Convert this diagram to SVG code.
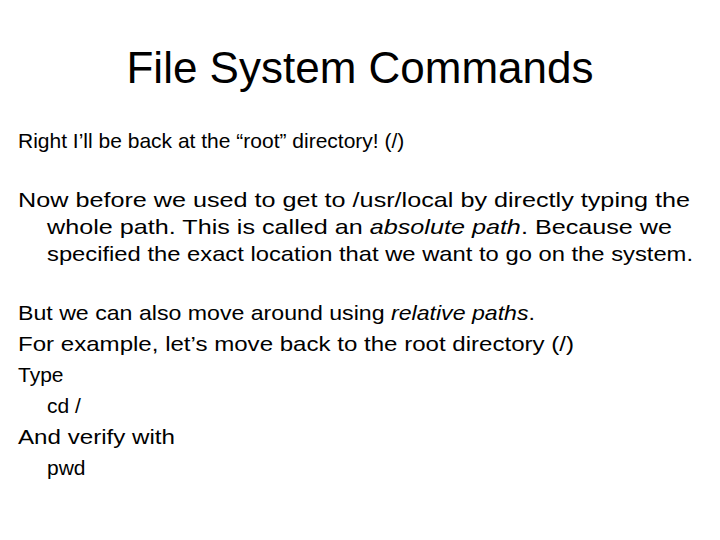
<svg xmlns="http://www.w3.org/2000/svg" width="720" height="540" viewBox="0 0 720 540">
<style>
text{font-family:"Liberation Sans",Arial,sans-serif;fill:#000}
.t{font-size:44px}
.b{font-size:21px}
</style>
<rect width="720" height="540" fill="#fff"/>
<g id="title"><text class="t" x="360" y="83" text-anchor="middle">File System Commands</text></g>
<g id="body" transform="translate(0,7)">
<text class="b" x="18" y="141">Right I’ll be back at the “root” directory! (/)</text>
<text class="b" x="18" y="200" textLength="672" lengthAdjust="spacingAndGlyphs">Now before we used to get to /usr/local by directly typing the</text>
<text class="b" x="47" y="227" textLength="625" lengthAdjust="spacingAndGlyphs">whole path. This is called an <tspan font-style="italic">absolute path</tspan>. Because we</text>
<text class="b" x="47" y="254" textLength="646" lengthAdjust="spacingAndGlyphs">specified the exact location that we want to go on the system.</text>
<text class="b" x="18" y="313" textLength="517" lengthAdjust="spacingAndGlyphs">But we can also move around using <tspan font-style="italic">relative paths</tspan>.</text>
<text class="b" x="18" y="344" textLength="556" lengthAdjust="spacingAndGlyphs">For example, let’s move back to the root directory (/)</text>
<text class="b" x="18" y="375">Type</text>
<text class="b" x="47" y="406">cd /</text>
<text class="b" x="18" y="437" textLength="157" lengthAdjust="spacingAndGlyphs">And verify with</text>
<text class="b" x="47" y="468">pwd</text>
</g>
</svg>
